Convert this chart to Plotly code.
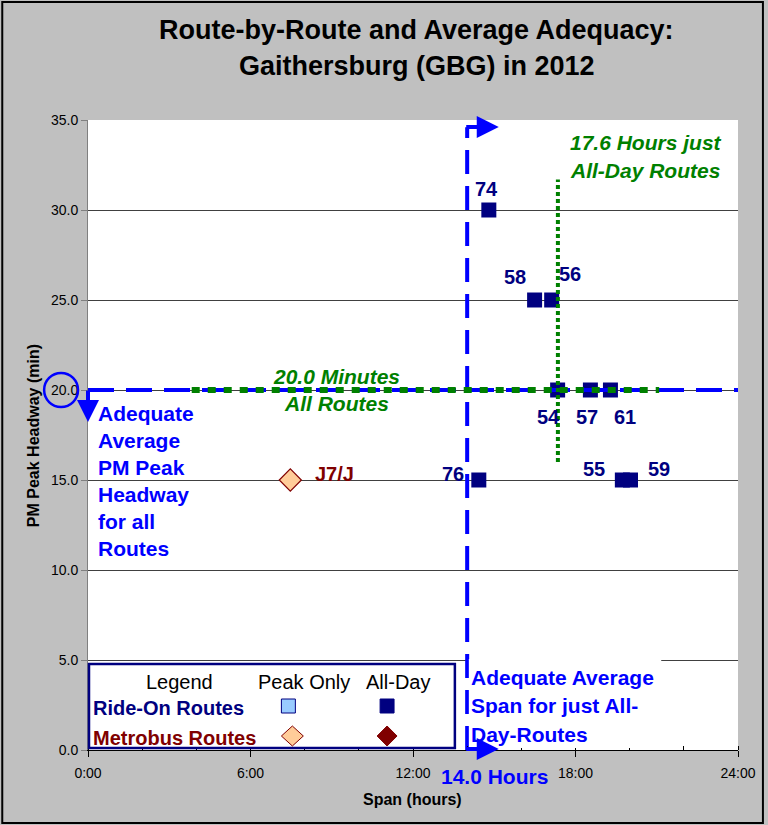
import plotly.graph_objects as go

# ---------------- data ----------------
route_labels = ["74", "58", "56", "54", "57", "61", "76", "55", "59"]
route_span = [14.80, 16.49, 17.12, 17.34, 18.55, 19.29, 14.43, 19.73, 20.03]
route_headway = [30, 25, 25, 20, 20, 20, 15, 15, 15]

metro_labels = ["J7/J"]
metro_span = [7.47]
metro_headway = [15]

avg_headway_all = 20.0          # minutes, all routes
avg_span_all_day = 14.0         # hours, adequacy threshold
avg_span_just_all_day = 17.35   # hours (as drawn)
green_h_extent = [3.83, 21.09]
green_v_extent = [16.0, 31.7]
blue_v_top = 34.6

x_tick_vals = [0, 6, 12, 18, 24]
x_tick_text = ["0:00", "6:00", "12:00", "18:00", "24:00"]
y_tick_vals = [0, 5, 10, 15, 20, 25, 30, 35]

# label offsets (style only, px): dx, dy (dy positive = up)
label_offsets = {
    "74": (-2, 21), "58": (-20, 23), "56": (18, 26), "54": (-9, -27),
    "57": (-3, -27), "61": (15, -27), "76": (-26, 6), "55": (-28, 11),
    "59": (29, 11), "J7/J": (44, 6),
}

FONT = "Arial, Liberation Sans, sans-serif"
NAVY = "#000080"
BLUE = "#0000FF"
GREEN = "#008000"
DRED = "#800000"

W_PAGE, H_PAGE = 768, 825
L, R, T, B = 88, 740, 120, 750
PW, PH = R - L, B - T


def pxx(px):
    return (px - L) / PW


def pyy(py):
    return (B - py) / PH


fig = go.Figure()

# route markers
fig.add_trace(go.Scatter(
    x=route_span, y=route_headway, mode="markers",
    marker=dict(symbol="square", size=15, color=NAVY, line=dict(width=0)),
    hoverinfo="skip", showlegend=False, cliponaxis=False))
fig.add_trace(go.Scatter(
    x=metro_span, y=metro_headway, mode="markers",
    marker=dict(symbol="diamond", size=17, color="#FFCC99", line=dict(width=1.2, color=DRED)),
    hoverinfo="skip", showlegend=False, cliponaxis=False))

# blue dashed threshold lines
fig.add_trace(go.Scatter(
    x=[0, 24], y=[avg_headway_all, avg_headway_all], mode="lines",
    line=dict(color=BLUE, width=4, dash="26px,12px"),
    hoverinfo="skip", showlegend=False, cliponaxis=False))
fig.add_trace(go.Scatter(
    x=[avg_span_all_day, avg_span_all_day], y=[0, blue_v_top], mode="lines",
    line=dict(color=BLUE, width=4, dash="24px,12px"),
    hoverinfo="skip", showlegend=False, cliponaxis=False))

# green dotted average lines
fig.add_trace(go.Scatter(
    x=green_h_extent, y=[avg_headway_all, avg_headway_all], mode="lines",
    line=dict(color=GREEN, width=6, dash="8px,8px"),
    hoverinfo="skip", showlegend=False, cliponaxis=False))
fig.add_trace(go.Scatter(
    x=[avg_span_just_all_day, avg_span_just_all_day], y=green_v_extent, mode="lines",
    line=dict(color=GREEN, width=4, dash="4px,3px"),
    hoverinfo="skip", showlegend=False, cliponaxis=False))

annotations = []


def ptext(px, py, text, size, color, bold=True, xanchor="center", angle=0):
    annotations.append(dict(xref="paper", yref="paper", x=pxx(px), y=pyy(py), text=text,
                            xanchor=xanchor, yanchor="middle", showarrow=False, textangle=angle,
                            font=dict(family=FONT, size=size, color=color,
                                      weight="bold" if bold else "normal")))


# route labels
for lab, xv, yv in zip(route_labels, route_span, route_headway):
    dx, dy = label_offsets[lab]
    annotations.append(dict(x=xv, y=yv, text=lab, showarrow=False, xshift=dx, yshift=dy,
                            xanchor="center", yanchor="middle",
                            font=dict(family=FONT, size=20, color=NAVY, weight="bold")))
for lab, xv, yv in zip(metro_labels, metro_span, metro_headway):
    dx, dy = label_offsets[lab]
    annotations.append(dict(x=xv, y=yv, text=lab, showarrow=False, xshift=dx, yshift=dy,
                            xanchor="center", yanchor="middle",
                            font=dict(family=FONT, size=20, color=DRED, weight="bold")))

# title lines
ptext(418, 30, "Route-by-Route and Average Adequacy:", 27, "#000000")
ptext(418, 66, "Gaithersburg (GBG) in 2012", 27, "#000000")

# green annotations
ptext(648, 142, "<i>17.6 Hours just</i>", 21, GREEN)
ptext(647, 170, "<i>All-Day Routes</i>", 21, GREEN)
ptext(337, 376, "<i>20.0 Minutes</i>", 21, GREEN)
ptext(337, 403, "<i>All Routes</i>", 21, GREEN)

# blue text blocks
head_lines = ["Adequate", "Average", "PM Peak", "Headway", "for all", "Routes"]
for i, t in enumerate(head_lines):
    ptext(96, 413 + 27 * i, t, 21, BLUE, xanchor="left")
span_lines = ["Adequate Average", "Span for just All-", "Day-Routes"]
for i, t in enumerate(span_lines):
    ptext(470, 677 + 28.5 * i, t, 21, BLUE, xanchor="left")
ptext(496, 776, "14.0 Hours", 21, BLUE)

# axis titles
ptext(413, 799, "Span (hours)", 16, "#000000")
ptext(33, 436, "PM Peak Headway (min)", 16, "#000000", angle=-90)

# legend text
ptext(180, 682, "Legend", 20, "#000000", bold=False)
ptext(305, 682, "Peak Only", 20, "#000000", bold=False)
ptext(399, 682, "All-Day", 20, "#000000", bold=False)
ptext(91, 708, "Ride-On Routes", 20, NAVY, xanchor="left")
ptext(91, 738, "Metrobus Routes", 20, DRED, xanchor="left")

# arrows
arrow_common = dict(xref="paper", yref="paper", text="", showarrow=True, arrowhead=2,
                    arrowsize=1.1, arrowwidth=4, arrowcolor=BLUE, standoff=0)
annotations.append(dict(arrow_common, x=pxx(500), y=pyy(127), ax=-34, ay=0))
annotations.append(dict(arrow_common, x=pxx(500), y=pyy(749), ax=-34, ay=0))
annotations.append(dict(arrow_common, x=pxx(88), y=pyy(422), ax=0, ay=-33))

shapes = []
# outer frame
shapes.append(dict(type="rect", xref="paper", yref="paper", x0=pxx(2), x1=pxx(765), y0=pyy(823), y1=pyy(2),
                   line=dict(color="#000000", width=2), fillcolor="rgba(0,0,0,0)", layer="below"))
# circle around 20.0
shapes.append(dict(type="circle", xref="paper", yref="paper", x0=pxx(44), x1=pxx(78), y0=pyy(407), y1=pyy(373),
                   line=dict(color=BLUE, width=2.5), layer="above"))
# legend box
shapes.append(dict(type="rect", xref="paper", yref="paper", x0=pxx(89), x1=pxx(456), y0=pyy(748), y1=pyy(664),
                   line=dict(color=NAVY, width=2.5), fillcolor="white", layer="above"))
# white box for span text
shapes.append(dict(type="rect", xref="paper", yref="paper", x0=pxx(470), x1=pxx(663), y0=pyy(748), y1=pyy(659),
                   line=dict(width=0), fillcolor="white", layer="above"))
# legend symbols
shapes.append(dict(type="rect", xref="paper", yref="paper", x0=pxx(282), x1=pxx(296), y0=pyy(713), y1=pyy(699),
                   line=dict(color=NAVY, width=1), fillcolor="#99CCFF", layer="above"))
shapes.append(dict(type="rect", xref="paper", yref="paper", x0=pxx(381), x1=pxx(395), y0=pyy(713), y1=pyy(699),
                   line=dict(color=NAVY, width=1), fillcolor=NAVY, layer="above"))


def diamond(cx, cy, hw, hh):
    return "M {},{} L {},{} L {},{} L {},{} Z".format(
        pxx(cx - hw), pyy(cy), pxx(cx), pyy(cy - hh), pxx(cx + hw), pyy(cy), pxx(cx), pyy(cy + hh))


shapes.append(dict(type="path", xref="paper", yref="paper", path=diamond(293, 736, 11, 10),
                   line=dict(color=DRED, width=1), fillcolor="#FFCC99", layer="above"))
shapes.append(dict(type="path", xref="paper", yref="paper", path=diamond(388, 736, 10, 10),
                   line=dict(color=DRED, width=1), fillcolor=DRED, layer="above"))

fig.update_layout(
    width=W_PAGE, height=H_PAGE,
    margin=dict(l=L, r=W_PAGE - R, t=T, b=H_PAGE - B, pad=0),
    paper_bgcolor="#C0C0C0", plot_bgcolor="#FFFFFF",
    showlegend=False,
    annotations=annotations, shapes=shapes,
    font=dict(family=FONT, size=14, color="#000000"),
    xaxis=dict(range=[0, 24], tickvals=x_tick_vals, ticktext=x_tick_text, showgrid=False, zeroline=False,
               showline=True, linecolor="#000000", linewidth=1, ticks="outside", ticklen=6,
               tickcolor="#000000", tickfont=dict(size=14, family=FONT), ticklabelstandoff=4,
               minor=dict(dtick=2, ticks="inside", ticklen=4, tickcolor="#000000", showgrid=False),
               fixedrange=True),
    yaxis=dict(range=[0, 35], tickvals=y_tick_vals, tickformat=".1f", showgrid=True, gridcolor="#404040",
               gridwidth=1, zeroline=False, showline=True, linecolor="#808080", linewidth=1,
               ticks="outside", ticklen=6, tickcolor="#808080", tickfont=dict(size=14, family=FONT),
               fixedrange=True),
)

fig.write_html("out.html", config={"displayModeBar": False},
               post_script="document.body.style.margin='0px';document.body.style.overflow='hidden';")
